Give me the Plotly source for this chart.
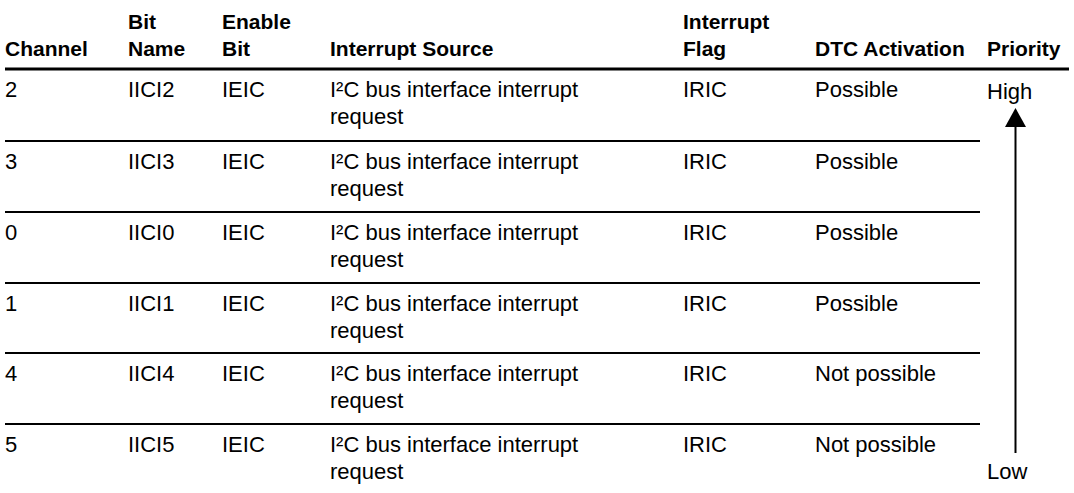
import plotly.graph_objects as go

# ---- data ----
header_line1 = ["", "Bit", "Enable", "", "Interrupt", "", ""]
header_line2 = ["Channel", "Name", "Bit", "Interrupt Source", "Flag", "DTC Activation", "Priority"]
channels = ["2", "3", "0", "1", "4", "5"]
bit_names = ["IICI2", "IICI3", "IICI0", "IICI1", "IICI4", "IICI5"]
enable_bits = ["IEIC", "IEIC", "IEIC", "IEIC", "IEIC", "IEIC"]
sources = ["I²C bus interface interrupt<br>request"] * 6
flags = ["IRIC", "IRIC", "IRIC", "IRIC", "IRIC", "IRIC"]
dtc = ["Possible", "Possible", "Possible", "Possible", "Not possible", "Not possible"]
priority_labels = ["High", "Low"]

# ---- layout constants ----
W, H = 1074, 493
FONT = "Liberation Sans, Arial, Helvetica, sans-serif"
col_x = [4, 127, 221, 329, 682, 814, 986]
hdr_y1, hdr_y2 = 21, 48
header_rule_y = 69
row_top = [69, 141, 212, 283, 353, 424]
line_gap = 27
first_off = 20
HDR_SIZE = 21
BODY_SIZE = 22

annotations = []

def add_text(x, y, text, size, bold=False):
    if text == "":
        return
    annotations.append(dict(
        x=x, y=y, xref="x", yref="y", text=("<b>%s</b>" % text) if bold else text,
        showarrow=False, xanchor="left", yanchor="middle",
        font=dict(family=FONT, size=size, color="black"), borderpad=0,
    ))

for i in range(len(header_line2)):
    add_text(col_x[i], hdr_y1, header_line1[i], HDR_SIZE, bold=True)
    add_text(col_x[i], hdr_y2, header_line2[i], HDR_SIZE, bold=True)

columns = [channels, bit_names, enable_bits, sources, flags, dtc]
for r in range(len(channels)):
    yc = row_top[r] + first_off
    for c, col in enumerate(columns):
        parts = col[r].split("<br>")
        for k, p in enumerate(parts):
            add_text(col_x[c], yc + k * line_gap, p, BODY_SIZE)

add_text(col_x[6], 91, priority_labels[0], BODY_SIZE)
add_text(col_x[6], 471, priority_labels[1], BODY_SIZE)

shapes = []
shapes.append(dict(type="line", xref="x", yref="y", x0=5, x1=1069, y0=header_rule_y, y1=header_rule_y,
                   line=dict(color="black", width=3)))
for r in range(1, len(row_top)):
    shapes.append(dict(type="line", xref="x", yref="y", x0=5, x1=980, y0=row_top[r], y1=row_top[r],
                       line=dict(color="black", width=2)))
# priority arrow
shapes.append(dict(type="line", xref="x", yref="y", x0=1015.5, x1=1015.5, y0=125, y1=453,
                   line=dict(color="black", width=2)))
shapes.append(dict(type="path", xref="x", yref="y", path="M 1005,127 L 1026,127 L 1015.5,108 Z",
                   fillcolor="black", line=dict(color="black", width=0)))

fig = go.Figure()
fig.add_trace(go.Scatter(x=[0, W], y=[0, H], mode="markers", marker=dict(opacity=0), hoverinfo="skip",
                         showlegend=False))
fig.update_layout(
    width=W, height=H, margin=dict(l=0, r=0, t=0, b=0),
    paper_bgcolor="white", plot_bgcolor="white",
    xaxis=dict(range=[0, W], visible=False, fixedrange=True),
    yaxis=dict(range=[H, 0], visible=False, fixedrange=True),
    annotations=annotations, shapes=shapes, showlegend=False,
)
fig.write_html("out.html", config={"displayModeBar": False},
               post_script="document.body.style.margin='0';")
